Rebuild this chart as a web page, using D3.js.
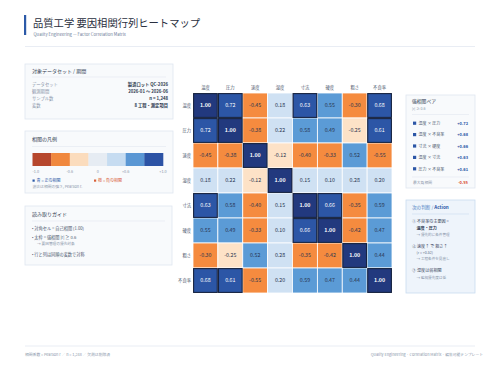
<!DOCTYPE html>
<html>
<head>
<meta charset="utf-8">
<script src="https://cdn.jsdelivr.net/npm/d3@7"></script>
<style>
  body { margin: 0; background: #fff; }
  svg { display: block; font-family: "Noto Sans CJK JP", "Noto Sans", sans-serif; }
</style>
</head>
<body>
<script>
// 変数名と相関行列
const factors = ["温度", "圧力", "速度", "湿度", "寸法", "硬度", "粗さ", "不良率"];
const corr = [
  [1.00, 0.72, -0.45, 0.18, 0.63, 0.55, -0.30, 0.68],
  [0.72, 1.00, -0.38, 0.22, 0.58, 0.49, -0.25, 0.61],
  [-0.45, -0.38, 1.00, -0.12, -0.40, -0.33, 0.52, -0.55],
  [0.18, 0.22, -0.12, 1.00, 0.15, 0.10, 0.28, 0.20],
  [0.63, 0.58, -0.40, 0.15, 1.00, 0.66, -0.35, 0.59],
  [0.55, 0.49, -0.33, 0.10, 0.66, 1.00, -0.42, 0.47],
  [-0.30, -0.25, 0.52, 0.28, -0.35, -0.42, 1.00, 0.44],
  [0.68, 0.61, -0.55, 0.20, 0.59, 0.47, 0.44, 1.00]
];

// 凡例
const legendColors = ["#b6472d", "#f0883e", "#fbdcbd", "#e6ecf3", "#c6dcf1", "#5a97d4", "#2c53a5"];
const legendTicks = [
  { label: "-1.0", pos: 0 }, { label: "-0.6", pos: 2 }, { label: "0", pos: 3.5 },
  { label: "+0.6", pos: 5 }, { label: "+1.0", pos: 7 }
];

// データセット情報
const infoKeys = ["データセット", "観測期間", "サンプル数", "変数"];
const infoVals = ["製造ロット QC-2026", "2026-01 〜 2026-06", "n = 1,248", "8 工程・測定項目"];

// 強相関ペア
const pairNames = ["温度 × 圧力", "温度 × 不良率", "寸法 × 硬度", "温度 × 寸法", "圧力 × 不良率"];
const pairVals = ["+0.72", "+0.68", "+0.66", "+0.63", "+0.61"];

const width = 500, height = 375;
const svg = d3.select("body").append("svg").attr("width", width).attr("height", height);

// タイトル
svg.append("rect").attr("x", 24).attr("y", 15).attr("width", 2.2).attr("height", 20).attr("fill", "#2c5aa8");
svg.append("text").attr("x", 33).attr("y", 27).text("品質工学 要因相関行列ヒートマップ")
  .attr("font-size", 10.3).attr("fill", "#2a3040");
svg.append("text").attr("x", 33.5).attr("y", 35.5).text("Quality Engineering — Factor Correlation Matrix")
  .attr("font-size", 4.2).attr("fill", "#6b7a96");
svg.append("line").attr("x1", 25).attr("x2", 475).attr("y1", 46.5).attr("y2", 46.5)
  .attr("stroke", "#e3e9f1").attr("stroke-width", 0.8);

// パネル共通
function panel(x, y, w, h, title, fill, stroke) {
  const g = svg.append("g").attr("transform", `translate(${x},${y})`);
  g.append("rect").attr("width", w).attr("height", h).attr("fill", fill || "#f8fafc")
    .attr("stroke", stroke || "#dfe6ef").attr("stroke-width", 0.8);
  return g;
}

// 対象データセット
const p1 = panel(25, 64, 148, 55);
p1.append("text").attr("x", 7).attr("y", 8.5).text("対象データセット / 期間")
  .attr("font-size", 5).attr("fill", "#2f3a50");
p1.append("line").attr("x1", 7).attr("x2", 141).attr("y1", 13).attr("y2", 13).attr("stroke", "#e2e8f0").attr("stroke-width", 0.6);
infoKeys.forEach((k, i) => {
  const y = 22 + i * 7;
  p1.append("text").attr("x", 7).attr("y", y).text(k).attr("font-size", 4.3).attr("fill", "#8a96aa");
  p1.append("text").attr("x", 143).attr("y", y).text(infoVals[i]).attr("text-anchor", "end")
    .attr("font-size", 4.3).attr("font-weight", "bold").attr("fill", "#2f3a50");
});

// 相関の凡例
const p2 = panel(25, 131, 148, 62);
p2.append("text").attr("x", 7).attr("y", 10).text("相関の凡例").attr("font-size", 5).attr("fill", "#2f3a50");
p2.append("line").attr("x1", 7).attr("x2", 141).attr("y1", 15.5).attr("y2", 15.5).attr("stroke", "#e2e8f0").attr("stroke-width", 0.6);
const lx = d3.scaleBand().domain(d3.range(legendColors.length)).range([7.5, 138]).paddingInner(0);
p2.selectAll("rect.seg").data(legendColors).enter().append("rect").attr("class", "seg")
  .attr("x", (d, i) => lx(i)).attr("y", 22).attr("width", lx.bandwidth() + 0.3).attr("height", 13)
  .attr("fill", d => d);
const lpos = d3.scaleLinear().domain([0, legendColors.length]).range([7.5, 138]);
p2.selectAll("text.tick").data(legendTicks).enter().append("text").attr("class", "tick")
  .attr("x", d => lpos(d.pos)).attr("y", 41.5)
  .attr("text-anchor", d => d.pos === 0 ? "start" : "middle")
  .text(d => d.label).attr("font-size", 3.8).attr("fill", "#8a96aa");
p2.append("rect").attr("x", 7.5).attr("y", 48.5).attr("width", 2.2).attr("height", 2.2).attr("fill", "#2c5aa8");
p2.append("text").attr("x", 11.5).attr("y", 51).text("青 = 正の相関").attr("font-size", 4).attr("fill", "#2c5aa8");
p2.append("rect").attr("x", 69).attr("y", 48.5).attr("width", 2.2).attr("height", 2.2).attr("fill", "#d9603a");
p2.append("text").attr("x", 73).attr("y", 51).text("橙 = 負の相関").attr("font-size", 4).attr("fill", "#d9603a");
p2.append("text").attr("x", 7.5).attr("y", 57).text("濃淡は相関の強さ, Pearson r.").attr("font-size", 3.8).attr("fill", "#8a96aa");

// 読み取りガイド
const p3 = panel(25, 206, 147, 59);
p3.append("text").attr("x", 7).attr("y", 10).text("読み取りガイド").attr("font-size", 5).attr("fill", "#2f3a50");
p3.append("line").attr("x1", 7).attr("x2", 140).attr("y1", 15).attr("y2", 15).attr("stroke", "#e2e8f0").attr("stroke-width", 0.6);
const guide = [
  { t: "• 対角セル = 自己相関 (1.00)", y: 24, s: 4.2, c: "#4a566c", x: 7 },
  { t: "• 太枠 = 強相関 |r| ≥ 0.6", y: 32.5, s: 4.2, c: "#4a566c", x: 7 },
  { t: "→ 要因管理の優先対象", y: 39, s: 3.7, c: "#8a96aa", x: 12 },
  { t: "• 行と列は同順の変数で対称", y: 50, s: 4.2, c: "#4a566c", x: 7 }
];
p3.selectAll("text.g").data(guide).enter().append("text").attr("class", "g")
  .attr("x", d => d.x).attr("y", d => d.y).text(d => d.t)
  .attr("font-size", d => d.s).attr("fill", d => d.c);

// ヒートマップ
const x = d3.scaleBand().domain(factors).range([193, 392]);
const y = d3.scaleBand().domain(factors).range([93, 293]);
function cellColor(v, i, j) {
  if (i === j) return "#22397e";
  if (v <= -0.6) return "#b6472d";
  if (v <= -0.295) return "#f58b3f";
  if (v < 0) return "#fde2c7";
  if (v < 0.3) return "#cfe1f3";
  if (v < 0.6) return "#5b9bd6";
  return "#2c56a6";
}
const cells = [];
corr.forEach((row, i) => row.forEach((v, j) => cells.push({ r: factors[i], c: factors[j], i, j, v })));

const hm = svg.append("g");
hm.selectAll("rect.cell").data(cells).enter().append("rect").attr("class", "cell")
  .attr("x", d => x(d.c)).attr("y", d => y(d.r))
  .attr("width", x.bandwidth()).attr("height", y.bandwidth())
  .attr("fill", d => cellColor(d.v, d.i, d.j))
  .attr("stroke", "#ffffff").attr("stroke-width", 0.8);
// 強相関の太枠
hm.selectAll("rect.strong").data(cells.filter(d => Math.abs(d.v) >= 0.6)).enter().append("rect")
  .attr("class", "strong")
  .attr("x", d => x(d.c) + 0.6).attr("y", d => y(d.r) + 0.6)
  .attr("width", x.bandwidth() - 1.2).attr("height", y.bandwidth() - 1.2)
  .attr("fill", "none").attr("stroke", "#17233f").attr("stroke-width", 1.1);
hm.selectAll("text.val").data(cells).enter().append("text").attr("class", "val")
  .attr("x", d => x(d.c) + x.bandwidth() / 2).attr("y", d => y(d.r) + y.bandwidth() / 2 + 1.9)
  .attr("text-anchor", "middle")
  .attr("font-size", 5.3)
  .attr("font-weight", d => d.i === d.j ? "bold" : "normal")
  .attr("fill", d => d.i === d.j || d.v >= 0.6 ? "#ffffff" : "#2a3550")
  .text(d => d.v.toFixed(2));

// 軸ラベル
hm.selectAll("text.col").data(factors).enter().append("text").attr("class", "col")
  .attr("x", d => x(d) + x.bandwidth() / 2).attr("y", 89).attr("text-anchor", "middle")
  .text(d => d).attr("font-size", 4.3).attr("fill", "#4a566c");
hm.selectAll("text.row").data(factors).enter().append("text").attr("class", "row")
  .attr("x", 191).attr("y", d => y(d) + y.bandwidth() / 2 + 1.5).attr("text-anchor", "end")
  .text(d => d).attr("font-size", 4.3).attr("fill", "#4a566c");

// 強相関ペア
const p4 = panel(406, 95, 69, 93);
p4.append("text").attr("x", 6).attr("y", 8).text("強相関ペア").attr("font-size", 4.8).attr("fill", "#2f3a50");
p4.append("text").attr("x", 6).attr("y", 14.5).text("|r| ≥ 0.6").attr("font-size", 3.6).attr("fill", "#8a96aa");
p4.append("line").attr("x1", 6).attr("x2", 63).attr("y1", 19.5).attr("y2", 19.5).attr("stroke", "#e2e8f0").attr("stroke-width", 0.6);
pairNames.forEach((n, i) => {
  const yy = 30 + i * 11.4;
  p4.append("rect").attr("x", 7).attr("y", yy - 3.4).attr("width", 3.2).attr("height", 3.2).attr("fill", "#2c56a6");
  p4.append("text").attr("x", 12.5).attr("y", yy).text(n).attr("font-size", 4).attr("fill", "#4a566c");
  p4.append("text").attr("x", 62).attr("y", yy).text(pairVals[i]).attr("text-anchor", "end")
    .attr("font-size", 4).attr("font-weight", "bold").attr("fill", "#2c56a6");
});
p4.append("line").attr("x1", 6).attr("x2", 63).attr("y1", 82).attr("y2", 82).attr("stroke", "#e2e8f0").attr("stroke-width", 0.6);
p4.append("text").attr("x", 7).attr("y", 89).text("最大負相関").attr("font-size", 3.8).attr("fill", "#8a96aa");
p4.append("text").attr("x", 62).attr("y", 89).text(d3.min(corr.flat()).toFixed(2)).attr("text-anchor", "end")
  .attr("font-size", 4).attr("font-weight", "bold").attr("fill", "#d9452b");

// 次の判断
const p5 = panel(406, 200, 69, 93, null, "#eef4fb", "#c9dcf0");
const t5 = p5.append("text").attr("x", 6).attr("y", 9).attr("font-size", 4.6);
t5.append("tspan").text("次の判断 / ").attr("fill", "#4a7fc4");
t5.append("tspan").text("Action").attr("font-weight", "bold").attr("fill", "#2c56a6");
p5.append("line").attr("x1", 6).attr("x2", 63).attr("y1", 14).attr("y2", 14).attr("stroke", "#c9dcf0").attr("stroke-width", 0.6);
const actions = [
  { t: "① 不良率の主要因 =", y: 23, s: 4.1, c: "#3a4660", w: "normal", x: 6 },
  { t: "温度・圧力", y: 29.5, s: 4.1, c: "#2f3a50", w: "bold", x: 10.5 },
  { t: "→ 優先的に条件管理", y: 36, s: 3.6, c: "#8a96aa", w: "normal", x: 10.5 },
  { t: "② 速度↑ で 粗さ↑", y: 47.5, s: 4.1, c: "#3a4660", w: "normal", x: 6 },
  { t: "(r = +0.52)", y: 53.5, s: 3.6, c: "#5a6680", w: "normal", x: 10.5 },
  { t: "→ 工程条件を見直し", y: 59.5, s: 3.6, c: "#8a96aa", w: "normal", x: 10.5 },
  { t: "③ 湿度は弱相関", y: 72, s: 4.1, c: "#3a4660", w: "normal", x: 6 },
  { t: "→ 監視優先度は低", y: 78.5, s: 3.6, c: "#8a96aa", w: "normal", x: 10.5 }
];
p5.selectAll("text.a").data(actions).enter().append("text").attr("class", "a")
  .attr("x", d => d.x).attr("y", d => d.y).text(d => d.t)
  .attr("font-size", d => d.s).attr("font-weight", d => d.w).attr("fill", d => d.c);

// フッター
svg.append("line").attr("x1", 25).attr("x2", 475).attr("y1", 346).attr("y2", 346)
  .attr("stroke", "#e3e9f1").attr("stroke-width", 0.8);
svg.append("text").attr("x", 25).attr("y", 356).text("相関係数 = Pearson r ／ n = 1,248 ／ 欠測は削除済")
  .attr("font-size", 3.8).attr("fill", "#8a96aa");
svg.append("text").attr("x", 483).attr("y", 356).attr("text-anchor", "end")
  .text("Quality Engineering · Correlation Matrix · 編集可能テンプレート")
  .attr("font-size", 3.8).attr("fill", "#8a96aa");
</script>
</body>
</html>
